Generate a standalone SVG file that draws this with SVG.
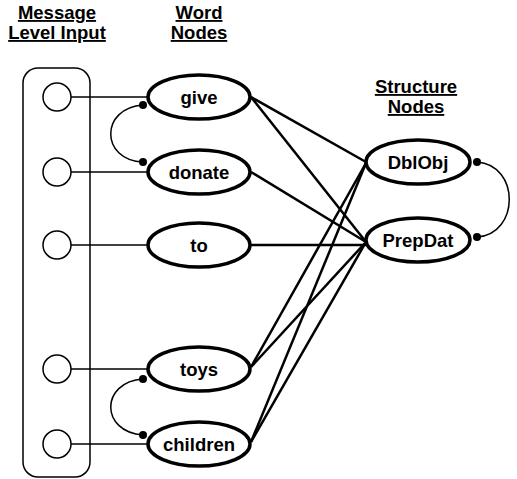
<svg xmlns="http://www.w3.org/2000/svg" width="517" height="479" viewBox="0 0 517 479">
<style>
text{font-family:"Liberation Sans",Arial,sans-serif;font-weight:bold;font-size:18.5px;fill:#000;text-anchor:middle}
.hdr{text-decoration:underline}
.node{fill:#fff;stroke:#000;stroke-width:3.5}
.inp{fill:#fff;stroke:#000;stroke-width:1.5}
.thin{stroke:#000;stroke-width:1.5;fill:none}
.thick{stroke:#000;stroke-width:2.5;fill:none}
.dot{fill:#000}
</style>
<rect width="517" height="479" fill="#fff"/>
<g id="headers">
<text class="hdr" x="57" y="19">Message</text>
<text class="hdr" x="57" y="39">Level Input</text>
<text class="hdr" x="199" y="19">Word</text>
<text class="hdr" x="199" y="39">Nodes</text>
<text class="hdr" x="416" y="93">Structure</text>
<text class="hdr" x="416" y="113">Nodes</text>
</g>
<g id="input-box">
<rect x="23" y="68" width="67" height="409" rx="15" ry="15" class="thin"/>
</g>
<g id="connectors">
<line class="thin" x1="71" y1="97" x2="150" y2="97"/>
<line class="thin" x1="71" y1="172" x2="150" y2="172"/>
<line class="thin" x1="71" y1="245" x2="150" y2="245"/>
<line class="thin" x1="71" y1="369" x2="150" y2="369"/>
<line class="thin" x1="71" y1="444" x2="150" y2="444"/>
<path class="thin" d="M143 105 C100 108 100 160 143 162"/>
<path class="thin" d="M143 379 C100 382 100 432 143 435"/>
<path class="thin" d="M477 162 C520 165 520 234 477 237"/>
<line class="thick" x1="251" y1="97" x2="366" y2="162"/>
<line class="thick" x1="251" y1="97" x2="366" y2="242"/>
<line class="thick" x1="251" y1="172" x2="366" y2="242"/>
<line class="thick" x1="251" y1="245" x2="366" y2="245"/>
<line class="thick" x1="251" y1="367" x2="366" y2="163"/>
<line class="thick" x1="251" y1="367" x2="366" y2="242"/>
<line class="thick" x1="251" y1="442" x2="366" y2="163"/>
<line class="thick" x1="251" y1="442" x2="366" y2="242"/>
</g>
<g id="in1"><circle class="inp" cx="57" cy="97" r="14"/></g>
<g id="in2"><circle class="inp" cx="57" cy="172" r="14"/></g>
<g id="in3"><circle class="inp" cx="57" cy="245" r="14"/></g>
<g id="in4"><circle class="inp" cx="57" cy="369" r="14"/></g>
<g id="in5"><circle class="inp" cx="57" cy="444" r="14"/></g>
<g id="give"><ellipse class="node" cx="199" cy="97" rx="51" ry="22"/><text x="199" y="103.5">give</text></g>
<g id="donate"><ellipse class="node" cx="199" cy="172" rx="51" ry="22"/><text x="199" y="178.5">donate</text></g>
<g id="to"><ellipse class="node" cx="199" cy="245" rx="51" ry="22"/><text x="199" y="251.5">to</text></g>
<g id="toys"><ellipse class="node" cx="199" cy="369" rx="51" ry="22"/><text x="199" y="375.5">toys</text></g>
<g id="children"><ellipse class="node" cx="199" cy="444" rx="51" ry="22"/><text x="199" y="450.5">children</text></g>
<g id="DblObj"><ellipse class="node" cx="418" cy="162" rx="52" ry="22"/><text x="418" y="168.5">DblObj</text></g>
<g id="PrepDat"><ellipse class="node" cx="418" cy="240" rx="52" ry="22"/><text x="418" y="246.5">PrepDat</text></g>
<g id="dots">
<circle class="dot" cx="143" cy="105" r="4"/>
<circle class="dot" cx="143" cy="162" r="4"/>
<circle class="dot" cx="143" cy="379" r="4"/>
<circle class="dot" cx="143" cy="435" r="4"/>
<circle class="dot" cx="477" cy="162" r="4"/>
<circle class="dot" cx="477" cy="237" r="4"/>
</g>
</svg>
